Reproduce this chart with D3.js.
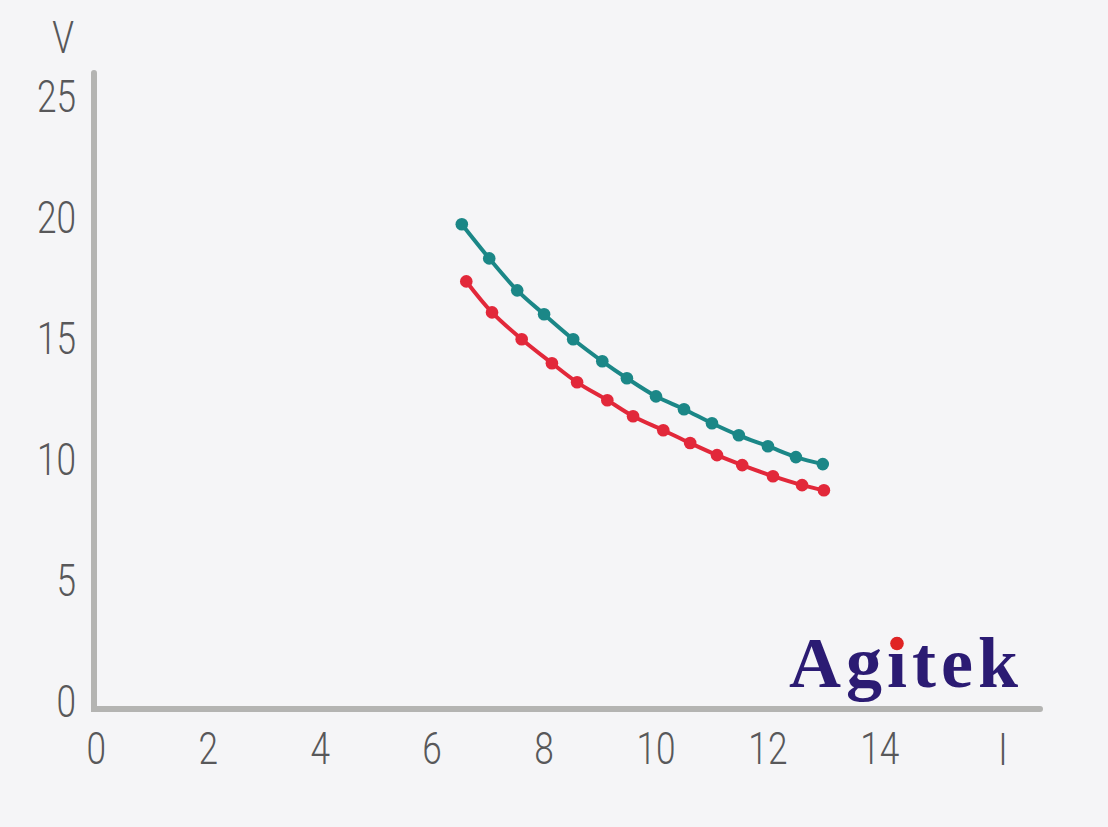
<!DOCTYPE html>
<html>
<head>
<meta charset="utf-8">
<script src="https://cdn.jsdelivr.net/npm/d3@7"></script>
<style>
  html, body { margin: 0; padding: 0; background: #f5f5f7; }
  svg { display: block; }
</style>
</head>
<body>
<svg id="chart" width="1108" height="827"></svg>
<script>
// ---- data ----
const xTicks = [0, 2, 4, 6, 8, 10, 12, 14];
const yTicks = [0, 5, 10, 15, 20, 25];
const xLabel = "I";
const yLabel = "V";
const brand = "Agitek";

const tealI = [6.54, 7.03, 7.53, 8.01, 8.53, 9.05, 9.49, 10.01, 10.51, 11.01, 11.49, 12.01, 12.51, 12.99];
const tealV = [19.74, 18.33, 17.01, 16.02, 14.99, 14.08, 13.38, 12.63, 12.10, 11.52, 11.02, 10.57, 10.12, 9.83];
const redI  = [6.62, 7.08, 7.61, 8.15, 8.60, 9.14, 9.60, 10.14, 10.62, 11.10, 11.55, 12.10, 12.62, 13.01];
const redV  = [17.38, 16.10, 14.99, 14.00, 13.21, 12.47, 11.81, 11.23, 10.70, 10.20, 9.79, 9.33, 8.96, 8.75];

// ---- layout ----
const svg = d3.select("#chart");
const x = d3.scaleLinear().domain([0, 14]).range([95.8, 879.3]);
const y = d3.scaleLinear().domain([0, 25]).range([702, 97]);
const axisY0 = 709;      // pixel row of the drawn x-axis line
const axisX0 = 94;       // pixel column of the drawn y-axis line
const labelColor = "#58585a";
const axisColor = "#b4b4b2";
const fontFam = "Roboto, 'Liberation Sans', sans-serif";
const squeeze = 0.8;

svg.append("rect").attr("width", 1108).attr("height", 827).attr("fill", "#f5f5f7");

// axis lines
svg.append("path")
  .attr("d", `M${axisX0},73 V${axisY0} H1040`)
  .attr("fill", "none")
  .attr("stroke", axisColor)
  .attr("stroke-width", 6)
  .attr("stroke-linecap", "round")
  .attr("stroke-linejoin", "miter");

// x axis
const gx = svg.append("g")
  .attr("transform", `translate(0,${axisY0})`)
  .call(d3.axisBottom(x).tickValues(xTicks).tickSize(0).tickPadding(24).tickFormat(d3.format("d")));
gx.select(".domain").remove();

// y axis
const gy = svg.append("g")
  .attr("transform", `translate(${axisX0},0)`)
  .call(d3.axisLeft(y).tickValues(yTicks).tickSize(0).tickPadding(18).tickFormat(d3.format("d")));
gy.select(".domain").remove();

svg.selectAll(".tick text")
  .attr("fill", labelColor)
  .style("font-family", fontFam)
  .style("font-weight", 300)
  .style("font-size", "44px");

// axis titles
svg.append("text").attr("class", "ttl")
  .attr("x", 63).attr("y", 53).attr("text-anchor", "middle")
  .text(yLabel);
svg.append("text").attr("class", "ttl")
  .attr("x", 1003).attr("y", 765).attr("text-anchor", "middle")
  .text(xLabel);
svg.selectAll(".ttl")
  .attr("fill", labelColor)
  .style("font-family", fontFam)
  .style("font-weight", 300)
  .style("font-size", "44px");

// condense all labels horizontally
svg.selectAll(".tick text, .ttl").each(function() {
  const len = this.getComputedTextLength();
  d3.select(this).attr("textLength", len * squeeze).attr("lengthAdjust", "spacingAndGlyphs");
});

// series
const series = [
  { name: "teal", color: "#1b8787", I: tealI, V: tealV },
  { name: "red",  color: "#e2283a", I: redI,  V: redV }
];
const line = d3.line().x(d => x(d[0])).y(d => y(d[1])).curve(d3.curveCatmullRom.alpha(0.5));

series.forEach(s => {
  const pts = s.I.map((v, i) => [v, s.V[i]]);
  svg.append("path")
    .datum(pts)
    .attr("d", line)
    .attr("fill", "none")
    .attr("stroke", s.color)
    .attr("stroke-width", 4);
  svg.append("g").selectAll("circle")
    .data(pts)
    .join("circle")
    .attr("cx", d => x(d[0]))
    .attr("cy", d => y(d[1]))
    .attr("r", 6.3)
    .attr("fill", s.color);
});

// brand mark
const fs = 72;
const bt = svg.append("text")
  .attr("x", 789).attr("y", 687)
  .attr("fill", "#2b1b73")
  .style("font-family", "'Liberation Serif', 'Times New Roman', serif")
  .style("font-weight", "bold")
  .style("font-size", fs + "px")
  .style("letter-spacing", "5px")
  .text(brand);
const iPos = bt.node().getStartPositionOfChar(2);
svg.append("circle")
  .attr("cx", iPos.x + 0.139 * fs)
  .attr("cy", 687 - 0.605 * fs)
  .attr("r", 6.8)
  .attr("fill", "#e02424");
</script>
</body>
</html>
